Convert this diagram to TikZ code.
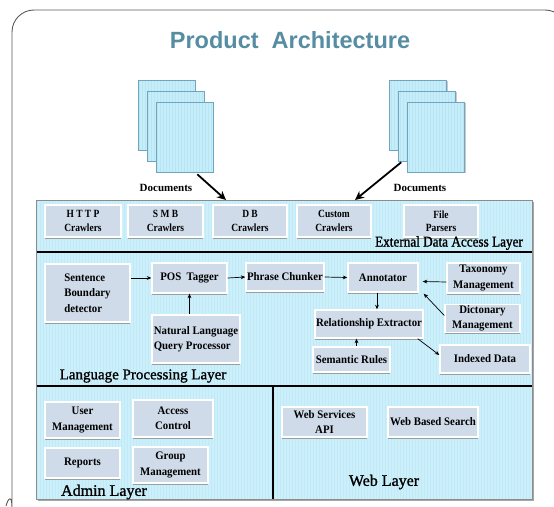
\documentclass[tikz,border=0pt]{standalone}
\usepackage{fontspec}
\setmainfont{Liberation Serif}
\newfontfamily\titlefont{Liberation Sans}
\newfontfamily\labelfont[FakeBold=1.3]{Liberation Serif}
\newfontfamily\extlabelfont[FakeBold=1.3,FakeStretch=0.88]{Liberation Serif}
\newfontfamily\boxfont[FakeStretch=0.94]{Liberation Serif}
\newfontfamily\extfont[FakeStretch=0.86]{Liberation Serif}
\usetikzlibrary{arrows.meta,shadows,calc}
\definecolor{panelfill}{RGB}{204,240,251}
\definecolor{stripecol}{RGB}{193,233,246}
\definecolor{boxfill}{RGB}{207,219,233}
\definecolor{pagefill}{RGB}{198,237,250}
\definecolor{pagestripe}{RGB}{184,228,244}
\definecolor{pageedge}{RGB}{112,165,190}
\definecolor{titlecol}{RGB}{86,141,163}
\definecolor{framecol}{RGB}{90,90,90}
\begin{document}
\begin{tikzpicture}[x=1pt,y=-1pt,
  stripes/.style 2 args={path picture={\foreach \i in {1.5,4.5,...,#1} \draw[#2,line width=0.35pt] ([xshift=\i pt]path picture bounding box.south west) -- ([xshift=\i pt]path picture bounding box.north west);}},
  page/.style={draw=pageedge, line width=0.6pt, fill=pagefill, minimum width=57pt, minimum height=70pt, inner sep=0pt, stripes={56}{pagestripe},
    drop shadow={shadow xshift=1pt, shadow yshift=-1pt, fill=black!35, opacity=0.6}},
  panel/.style={draw=black!45, line width=0.6pt, fill=panelfill, inner sep=0pt, stripes={495}{stripecol},
    drop shadow={shadow xshift=1.5pt, shadow yshift=-1.5pt, fill=black!50, opacity=0.7}},
  box/.style={draw=white, line width=1.4pt, fill=boxfill, inner sep=1pt, align=center,
    font=\boxfont\bfseries\fontsize{11.5}{15.5}\selectfont,
    drop shadow={shadow xshift=0.3pt, shadow yshift=-1.6pt, fill=black!45, opacity=0.8}},
  extbox/.style={box, font=\extfont\bfseries\fontsize{11}{13.5}\selectfont},
  layerlabel/.style={inner sep=0pt, font=\labelfont\fontsize{#1}{#1}\selectfont},
  doclabel/.style={inner sep=0pt, font=\bfseries\fontsize{11}{13}\selectfont},
  thinarrow/.style={draw=black, line width=0.7pt, -{Stealth[length=4.5pt,width=3.8pt]}},
  docarrow/.style={draw=black, line width=1.8pt, -{Stealth[length=9pt,width=8.5pt]}},
  divider/.style={draw=black, line width=1.6pt}
]
\useasboundingbox (0,0) rectangle (554,506);
\clip (0,0) rectangle (554,506);

% outer slide frame
\draw[framecol, line width=0.9pt, rounded corners=22pt]
  (6,506) to[out=75,in=-90] (12,486) -- (12,10) -- (567,10) -- (567,520);

% title
\node[inner sep=0pt, font=\titlefont\bfseries\fontsize{23.5}{28}\selectfont, text=titlecol] (title) at (290,40) {Product\ \ Architecture};

% document stacks
\node[page] (lp1) at (166.5,115) {};
\node[page] (lp2) at (175.5,126) {};
\node[page] (lp3) at (184.5,137) {};
\node[page] (rp1) at (418,115) {};
\node[page] (rp2) at (427,126) {};
\node[page] (rp3) at (436,137) {};
\node[doclabel] (ldl) at (166,188) {Documents};
\node[doclabel] (rdl) at (420,188) {Documents};

% main panel
\node[panel, minimum width=496pt, minimum height=299pt] (panel) at (284,349.5) {};
\draw[divider] (36.5,252) -- (531.5,252);
\draw[divider] (36.5,386) -- (531.5,386);
\draw[draw=black, line width=1.1pt] (273,386) -- (273,499);

% external data access layer
\node[extbox, minimum width=76pt, minimum height=32pt] (http) at (83,221) {H T T P\\Crawlers};
\node[extbox, minimum width=75pt, minimum height=32pt] (smb) at (165.5,221) {S M B\\Crawlers};
\node[extbox, minimum width=74pt, minimum height=32pt] (db) at (250,221) {D B\\Crawlers};
\node[extbox, minimum width=74pt, minimum height=32pt] (custom) at (334,221) {Custom\\Crawlers};
\node[extbox, minimum width=74pt, minimum height=32pt] (file) at (441,221) {File\\Parsers};
\node[inner sep=0pt, font=\extlabelfont\fontsize{15}{15}\selectfont] (extlabel) at (449,243) {External Data Access Layer};

% language processing layer
\node[box, align=left, minimum width=85pt, minimum height=58pt] (sbd) at (87.5,293) {Sentence\\Boundary\\detector};
\node[box, minimum width=75pt, minimum height=30pt] (pos) at (189.5,278) {POS\ \ Tagger};
\node[box, minimum width=78pt, minimum height=28pt] (phrase) at (285,277) {Phrase Chunker};
\node[box, align=left, minimum width=88pt, minimum height=48pt] (nlqp) at (196,339) {Natural Language\\Query Processor};
\node[box, minimum width=70pt, minimum height=29pt] (annot) at (383,277.5) {Annotator};
\node[box, minimum width=73pt, minimum height=30pt] (tax) at (483.5,278) {Taxonomy\\Management};
\node[box, minimum width=75pt, minimum height=27pt] (dict) at (482.5,318.5) {Dictonary\\Management};
\node[box, minimum width=108pt, minimum height=28pt] (rel) at (369,324) {Relationship Extractor};
\node[box, minimum width=77pt, minimum height=25pt] (sem) at (351.5,359.5) {Semantic Rules};
\node[box, minimum width=90pt, minimum height=28pt] (idx) at (485,359) {Indexed Data};
\node[layerlabel=15] (langlabel) at (143,376) {Language Processing Layer};

% admin layer
\node[box, minimum width=75pt, minimum height=36pt] (user) at (82.5,420) {User\\Management};
\node[box, minimum width=80pt, minimum height=37pt] (access) at (173,418.5) {Access\\Control};
\node[box, minimum width=75pt, minimum height=30pt] (reports) at (82.5,463) {Reports};
\node[box, minimum width=75pt, minimum height=36pt] (group) at (170.5,465) {Group\\Management};
\node[layerlabel=16] (adminlabel) at (104,492) {Admin Layer};

% web layer
\node[box, minimum width=85pt, minimum height=30pt] (wsapi) at (324.5,422) {Web Services\\API};
\node[box, minimum width=90pt, minimum height=30pt] (wbs) at (433,422) {Web Based Search};
\node[layerlabel=16] (weblabel) at (384,482) {Web Layer};

% connectors
\draw[thinarrow] (sbd.east |- pos.west) -- (pos.west);
\draw[thinarrow] (nlqp.north -| pos.south) -- (pos.south);
\draw[thinarrow] (pos.east) -- (phrase.west);
\draw[thinarrow] (phrase.east) -- (annot.west);
\draw[thinarrow] ($(tax.west)+(0,4)$) -- ($(annot.east)+(4,4)$);
\draw[thinarrow] ($(dict.west)+(0,-3)$) -- ($(annot.south east)+(5,1)$);
\draw[thinarrow] ([xshift=-6pt]annot.south) -- ([xshift=-6pt]annot.south |- rel.north);
\draw[thinarrow] ([xshift=5pt]sem.north) -- ([xshift=5pt]sem.north |- rel.south);
\draw[thinarrow] ($(rel.south east)+(-6,0)$) -- ($(idx.west)+(0,-4)$);

% document arrows
\coordinate (ltip) at (226,200);
\coordinate (rtip) at (355,200);
\draw[docarrow] ($(lp3.south east)+(-16,2)$) -- (ltip);
\draw[docarrow] ($(rp2.south west)+(3,1)$) -- (rtip);
\end{tikzpicture}
\end{document}
